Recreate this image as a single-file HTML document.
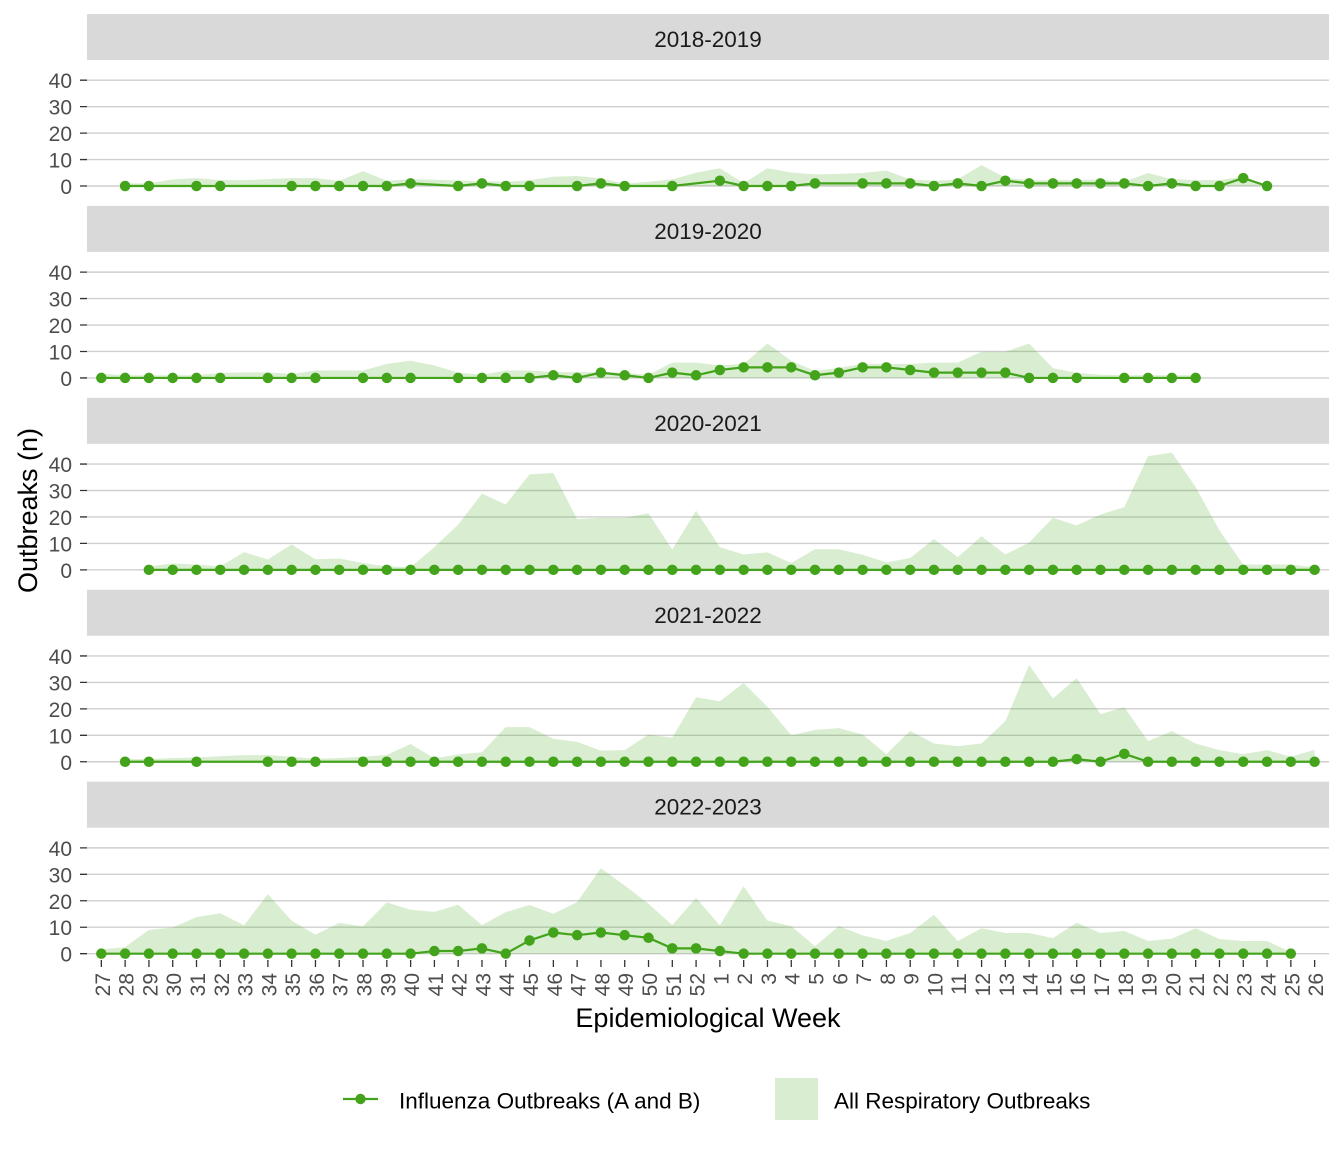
<!DOCTYPE html>
<html>
<head>
<meta charset="utf-8">
<style>
html,body{margin:0;padding:0;background:#fff;}
svg{display:block;}
text{font-family:"Liberation Sans",Arial,sans-serif;}
.grid line{stroke:#CFCFCF;stroke-width:1.4;}
.tk{stroke:#333;stroke-width:1.3;}
.yl{font-size:21px;fill:#4D4D4D;text-anchor:end;}
.st{font-size:22.5px;fill:#1A1A1A;text-anchor:middle;}
.xl{font-size:21px;fill:#4D4D4D;text-anchor:end;}
.area{fill:#41A317;fill-opacity:0.2;stroke:none;}
.ln{fill:none;stroke:#43A31B;stroke-width:2.2;vector-effect:non-scaling-stroke;stroke-linejoin:round;}
.dt{fill:none;stroke:#43A31B;stroke-width:10.5;stroke-linecap:round;vector-effect:non-scaling-stroke;}
</style>
</head>
<body>
<svg width="1344" height="1152" viewBox="0 0 1344 1152" xmlns="http://www.w3.org/2000/svg">
<rect width="1344" height="1152" fill="#fff"/>

<!-- Panel 1 -->
<g transform="translate(0,186)">
  <rect x="87" y="-172" width="1242" height="46" fill="#D9D9D9"/>
  <text class="st" x="708" y="-139">2018-2019</text>
  <g class="grid">
    <line x1="87" x2="1329" y1="0" y2="0"/><line x1="87" x2="1329" y1="-26.45" y2="-26.45"/><line x1="87" x2="1329" y1="-52.9" y2="-52.9"/><line x1="87" x2="1329" y1="-79.35" y2="-79.35"/><line x1="87" x2="1329" y1="-105.8" y2="-105.8"/>
  </g>
  <path class="tk" d="M80,0H87M80,-26.45H87M80,-52.9H87M80,-79.35H87M80,-105.8H87"/>
  <text class="yl" x="72" y="8">0</text><text class="yl" x="72" y="-18.45">10</text><text class="yl" x="72" y="-44.9">20</text><text class="yl" x="72" y="-71.35">30</text><text class="yl" x="72" y="-97.8">40</text>
  <g transform="translate(101.3,0) scale(23.79,-2.645)">
    <path class="area" d="M1,0 L1,1 2,1 3,2.5 4,3 5,2.2 6,2.2 7,2.6 8,3 9,3 10,2 11,5.6 12,2 13,2.6 14,2.4 15,2.1 16,1.8 17,1.6 18,2.2 19,3.5 20,3.8 21,2.9 22,0.9 23,1.6 24,2.5 25,5 26,6.7 27,1.1 28,6.7 29,5.1 30,4.4 31,4.6 32,4.9 33,5.8 34,2.5 35,2 36,2.5 37,7.9 38,3.1 39,2.2 40,2.2 41,2.2 42,2.5 43,1.6 44,4.9 45,2.6 46,2.2 47,2.2 48,3.6 49,0 Z"/>
    <path class="ln" d="M1,0 L2,0 4,0 5,0 8,0 9,0 10,0 11,0 12,0 13,1 15,0 16,1 17,0 18,0 20,0 21,1 22,0 24,0 26,2 27,0 28,0 29,0 30,1 32,1 33,1 34,1 35,0 36,1 37,0 38,2 39,1 40,1 41,1 42,1 43,1 44,0 45,1 46,0 47,0 48,3 49,0"/>
    <path class="dt" d="M1,0h.001M2,0h.001M4,0h.001M5,0h.001M8,0h.001M9,0h.001M10,0h.001M11,0h.001M12,0h.001M13,1h.001M15,0h.001M16,1h.001M17,0h.001M18,0h.001M20,0h.001M21,1h.001M22,0h.001M24,0h.001M26,2h.001M27,0h.001M28,0h.001M29,0h.001M30,1h.001M32,1h.001M33,1h.001M34,1h.001M35,0h.001M36,1h.001M37,0h.001M38,2h.001M39,1h.001M40,1h.001M41,1h.001M42,1h.001M43,1h.001M44,0h.001M45,1h.001M46,0h.001M47,0h.001M48,3h.001M49,0h.001"/>
  </g>
</g>

<!-- Panel 2 -->
<g transform="translate(0,377.92)">
  <rect x="87" y="-172" width="1242" height="46" fill="#D9D9D9"/>
  <text class="st" x="708" y="-139">2019-2020</text>
  <g class="grid">
    <line x1="87" x2="1329" y1="0" y2="0"/><line x1="87" x2="1329" y1="-26.45" y2="-26.45"/><line x1="87" x2="1329" y1="-52.9" y2="-52.9"/><line x1="87" x2="1329" y1="-79.35" y2="-79.35"/><line x1="87" x2="1329" y1="-105.8" y2="-105.8"/>
  </g>
  <path class="tk" d="M80,0H87M80,-26.45H87M80,-52.9H87M80,-79.35H87M80,-105.8H87"/>
  <text class="yl" x="72" y="8">0</text><text class="yl" x="72" y="-18.45">10</text><text class="yl" x="72" y="-44.9">20</text><text class="yl" x="72" y="-71.35">30</text><text class="yl" x="72" y="-97.8">40</text>
  <g transform="translate(101.3,0) scale(23.79,-2.645)">
    <path class="area" d="M0,0 L0,1.6 1,1 2,1 3,1 4,1 5,1.9 6,2.1 7,2.1 8,1.5 9,2.8 10,2.8 11,2.8 12,5.3 13,6.5 14,4.7 15,2 16,1.2 17,2.8 18,2.8 19,2.2 20,2.2 21,2.2 22,1.9 23,1.2 24,5.8 25,5.8 26,4.7 27,5.3 28,13 29,6.5 30,2.6 31,3.8 32,5.3 33,5.3 34,5.3 35,5.8 36,5.8 37,9.9 38,9.9 39,13 40,3.7 41,1.9 42,1.2 43,1 44,1 45,1 46,1 46,0 Z"/>
    <path class="ln" d="M0,0 L18,0 19,1 20,0 21,2 22,1 23,0 24,2 25,1 26,3 27,4 28,4 29,4 30,1 31,2 32,4 33,4 34,3 35,2 36,2 37,2 38,2 39,0 46,0"/>
    <path class="dt" d="M0,0h.001M1,0h.001M2,0h.001M3,0h.001M4,0h.001M5,0h.001M7,0h.001M8,0h.001M9,0h.001M11,0h.001M12,0h.001M13,0h.001M15,0h.001M16,0h.001M17,0h.001M18,0h.001M19,1h.001M20,0h.001M21,2h.001M22,1h.001M23,0h.001M24,2h.001M25,1h.001M26,3h.001M27,4h.001M28,4h.001M29,4h.001M30,1h.001M31,2h.001M32,4h.001M33,4h.001M34,3h.001M35,2h.001M36,2h.001M37,2h.001M38,2h.001M39,0h.001M40,0h.001M41,0h.001M43,0h.001M44,0h.001M45,0h.001M46,0h.001"/>
  </g>
</g>

<!-- Panel 3 -->
<g transform="translate(0,569.84)">
  <rect x="87" y="-172" width="1242" height="46" fill="#D9D9D9"/>
  <text class="st" x="708" y="-139">2020-2021</text>
  <g class="grid">
    <line x1="87" x2="1329" y1="0" y2="0"/><line x1="87" x2="1329" y1="-26.45" y2="-26.45"/><line x1="87" x2="1329" y1="-52.9" y2="-52.9"/><line x1="87" x2="1329" y1="-79.35" y2="-79.35"/><line x1="87" x2="1329" y1="-105.8" y2="-105.8"/>
  </g>
  <path class="tk" d="M80,0H87M80,-26.45H87M80,-52.9H87M80,-79.35H87M80,-105.8H87"/>
  <text class="yl" x="72" y="8">0</text><text class="yl" x="72" y="-18.45">10</text><text class="yl" x="72" y="-44.9">20</text><text class="yl" x="72" y="-71.35">30</text><text class="yl" x="72" y="-97.8">40</text>
  <g transform="translate(101.3,0) scale(23.79,-2.645)">
    <path class="area" d="M2,0 L2,1.3 3,2.4 4,2 5,1.3 6,6.7 7,3.9 8,9.6 9,4 10,4.3 11,2.6 12,1.3 13,1 14,8.6 15,17.1 16,28.8 17,24.7 18,36.1 19,36.6 20,19.2 21,19.7 22,19.7 23,21.4 24,7.7 25,22.4 26,8.6 27,5.8 28,6.6 29,2.6 30,7.8 31,7.8 32,5.7 33,2.8 34,4.5 35,11.6 36,4.8 37,12.7 38,5.8 39,10.3 40,19.7 41,16.8 42,20.9 43,23.7 44,43 45,44.3 46,31.3 47,14.9 48,2 49,2 50,2 51,1 51,0 Z"/>
    <path class="ln" d="M2,0 L51,0"/>
    <path class="dt" d="M2,0h.001M3,0h.001M4,0h.001M5,0h.001M6,0h.001M7,0h.001M8,0h.001M9,0h.001M10,0h.001M11,0h.001M12,0h.001M13,0h.001M14,0h.001M15,0h.001M16,0h.001M17,0h.001M18,0h.001M19,0h.001M20,0h.001M21,0h.001M22,0h.001M23,0h.001M24,0h.001M25,0h.001M26,0h.001M27,0h.001M28,0h.001M29,0h.001M30,0h.001M31,0h.001M32,0h.001M33,0h.001M34,0h.001M35,0h.001M36,0h.001M37,0h.001M38,0h.001M39,0h.001M40,0h.001M41,0h.001M42,0h.001M43,0h.001M44,0h.001M45,0h.001M46,0h.001M47,0h.001M48,0h.001M49,0h.001M50,0h.001M51,0h.001"/>
  </g>
</g>

<!-- Panel 4 -->
<g transform="translate(0,761.76)">
  <rect x="87" y="-172" width="1242" height="46" fill="#D9D9D9"/>
  <text class="st" x="708" y="-139">2021-2022</text>
  <g class="grid">
    <line x1="87" x2="1329" y1="0" y2="0"/><line x1="87" x2="1329" y1="-26.45" y2="-26.45"/><line x1="87" x2="1329" y1="-52.9" y2="-52.9"/><line x1="87" x2="1329" y1="-79.35" y2="-79.35"/><line x1="87" x2="1329" y1="-105.8" y2="-105.8"/>
  </g>
  <path class="tk" d="M80,0H87M80,-26.45H87M80,-52.9H87M80,-79.35H87M80,-105.8H87"/>
  <text class="yl" x="72" y="8">0</text><text class="yl" x="72" y="-18.45">10</text><text class="yl" x="72" y="-44.9">20</text><text class="yl" x="72" y="-71.35">30</text><text class="yl" x="72" y="-97.8">40</text>
  <g transform="translate(101.3,0) scale(23.79,-2.645)">
    <path class="area" d="M1,0 L1,1 2,1 3,1.4 4,1.6 5,2.1 6,2.5 7,2.5 8,1.9 9,1.1 10,1.4 11,1.9 12,2.6 13,6.7 14,1.3 15,2.8 16,3.6 17,13.1 18,13.1 19,8.7 20,7.5 21,4.2 22,4.4 23,10.3 24,9.1 25,24.4 26,22.9 27,29.8 28,20.8 29,10 30,12 31,12.7 32,10.3 33,2.9 34,11.7 35,6.9 36,5.9 37,6.9 38,15.3 39,36.6 40,23.9 41,31.6 42,18 43,20.6 44,7.8 45,11.6 46,6.9 47,4.4 48,2.9 49,4.4 50,1.9 51,4.5 51,0 Z"/>
    <path class="ln" d="M1,0 L40,0 41,1 42,0 43,3 44,0 51,0"/>
    <path class="dt" d="M1,0h.001M2,0h.001M4,0h.001M7,0h.001M8,0h.001M9,0h.001M11,0h.001M12,0h.001M13,0h.001M14,0h.001M15,0h.001M16,0h.001M17,0h.001M18,0h.001M19,0h.001M20,0h.001M21,0h.001M22,0h.001M23,0h.001M24,0h.001M25,0h.001M26,0h.001M27,0h.001M28,0h.001M29,0h.001M30,0h.001M31,0h.001M32,0h.001M33,0h.001M34,0h.001M35,0h.001M36,0h.001M37,0h.001M38,0h.001M39,0h.001M40,0h.001M41,1h.001M42,0h.001M43,3h.001M44,0h.001M45,0h.001M46,0h.001M47,0h.001M48,0h.001M49,0h.001M50,0h.001M51,0h.001"/>
  </g>
</g>

<!-- Panel 5 -->
<g transform="translate(0,953.68)">
  <rect x="87" y="-172" width="1242" height="46" fill="#D9D9D9"/>
  <text class="st" x="708" y="-139">2022-2023</text>
  <g class="grid">
    <line x1="87" x2="1329" y1="0" y2="0"/><line x1="87" x2="1329" y1="-26.45" y2="-26.45"/><line x1="87" x2="1329" y1="-52.9" y2="-52.9"/><line x1="87" x2="1329" y1="-79.35" y2="-79.35"/><line x1="87" x2="1329" y1="-105.8" y2="-105.8"/>
  </g>
  <path class="tk" d="M80,0H87M80,-26.45H87M80,-52.9H87M80,-79.35H87M80,-105.8H87"/>
  <text class="yl" x="72" y="8">0</text><text class="yl" x="72" y="-18.45">10</text><text class="yl" x="72" y="-44.9">20</text><text class="yl" x="72" y="-71.35">30</text><text class="yl" x="72" y="-97.8">40</text>
  <g transform="translate(101.3,0) scale(23.79,-2.645)">
    <path class="area" d="M0,0 L0,1.6 1,2.5 2,9 3,9.9 4,13.8 5,15.3 6,10.7 7,22.5 8,12.5 9,7.2 10,11.6 11,10.3 12,19.4 13,16.6 14,15.8 15,18.5 16,10.8 17,15.7 18,18.4 19,15.1 20,19.5 21,32.3 22,25.8 23,18.9 24,10.8 25,21.1 26,10.7 27,25.5 28,12.5 29,10.4 30,2.8 31,10.4 32,6.9 33,4.8 34,7.8 35,14.7 36,4.8 37,9.6 38,7.8 39,7.8 40,5.9 41,11.7 42,7.8 43,8.6 44,4.8 45,5.7 46,9.6 47,5.5 48,4.8 49,4.8 50,0.6 50,0 Z"/>
    <path class="ln" d="M0,0 L13,0 14,1 15,1 16,2 17,0 18,5 19,8 20,7 21,8 22,7 23,6 24,2 25,2 26,1 27,0 50,0"/>
    <path class="dt" d="M0,0h.001M1,0h.001M2,0h.001M3,0h.001M4,0h.001M5,0h.001M6,0h.001M7,0h.001M8,0h.001M9,0h.001M10,0h.001M11,0h.001M12,0h.001M13,0h.001M14,1h.001M15,1h.001M16,2h.001M17,0h.001M18,5h.001M19,8h.001M20,7h.001M21,8h.001M22,7h.001M23,6h.001M24,2h.001M25,2h.001M26,1h.001M27,0h.001M28,0h.001M29,0h.001M30,0h.001M31,0h.001M32,0h.001M33,0h.001M34,0h.001M35,0h.001M36,0h.001M37,0h.001M38,0h.001M39,0h.001M40,0h.001M41,0h.001M42,0h.001M43,0h.001M44,0h.001M45,0h.001M46,0h.001M47,0h.001M48,0h.001M49,0h.001M50,0h.001"/>
  </g>
  <!-- x ticks -->
  <line x1="100.7" x2="1316" y1="9.8" y2="9.8" stroke="#333" stroke-width="7" stroke-dasharray="1.3 22.49"/>
</g>

<!-- x tick labels -->
<g class="xl">
<text class="xl" transform="translate(109.8,973) rotate(-90)">27</text>
<text class="xl" transform="translate(133.6,973) rotate(-90)">28</text>
<text class="xl" transform="translate(157.4,973) rotate(-90)">29</text>
<text class="xl" transform="translate(181.2,973) rotate(-90)">30</text>
<text class="xl" transform="translate(205.0,973) rotate(-90)">31</text>
<text class="xl" transform="translate(228.8,973) rotate(-90)">32</text>
<text class="xl" transform="translate(252.5,973) rotate(-90)">33</text>
<text class="xl" transform="translate(276.3,973) rotate(-90)">34</text>
<text class="xl" transform="translate(300.1,973) rotate(-90)">35</text>
<text class="xl" transform="translate(323.9,973) rotate(-90)">36</text>
<text class="xl" transform="translate(347.7,973) rotate(-90)">37</text>
<text class="xl" transform="translate(371.5,973) rotate(-90)">38</text>
<text class="xl" transform="translate(395.3,973) rotate(-90)">39</text>
<text class="xl" transform="translate(419.1,973) rotate(-90)">40</text>
<text class="xl" transform="translate(442.9,973) rotate(-90)">41</text>
<text class="xl" transform="translate(466.7,973) rotate(-90)">42</text>
<text class="xl" transform="translate(490.4,973) rotate(-90)">43</text>
<text class="xl" transform="translate(514.2,973) rotate(-90)">44</text>
<text class="xl" transform="translate(538.0,973) rotate(-90)">45</text>
<text class="xl" transform="translate(561.8,973) rotate(-90)">46</text>
<text class="xl" transform="translate(585.6,973) rotate(-90)">47</text>
<text class="xl" transform="translate(609.4,973) rotate(-90)">48</text>
<text class="xl" transform="translate(633.2,973) rotate(-90)">49</text>
<text class="xl" transform="translate(657.0,973) rotate(-90)">50</text>
<text class="xl" transform="translate(680.8,973) rotate(-90)">51</text>
<text class="xl" transform="translate(704.6,973) rotate(-90)">52</text>
<text class="xl" transform="translate(728.3,973) rotate(-90)">1</text>
<text class="xl" transform="translate(752.1,973) rotate(-90)">2</text>
<text class="xl" transform="translate(775.9,973) rotate(-90)">3</text>
<text class="xl" transform="translate(799.7,973) rotate(-90)">4</text>
<text class="xl" transform="translate(823.5,973) rotate(-90)">5</text>
<text class="xl" transform="translate(847.3,973) rotate(-90)">6</text>
<text class="xl" transform="translate(871.1,973) rotate(-90)">7</text>
<text class="xl" transform="translate(894.9,973) rotate(-90)">8</text>
<text class="xl" transform="translate(918.7,973) rotate(-90)">9</text>
<text class="xl" transform="translate(942.5,973) rotate(-90)">10</text>
<text class="xl" transform="translate(966.2,973) rotate(-90)">11</text>
<text class="xl" transform="translate(990.0,973) rotate(-90)">12</text>
<text class="xl" transform="translate(1013.8,973) rotate(-90)">13</text>
<text class="xl" transform="translate(1037.6,973) rotate(-90)">14</text>
<text class="xl" transform="translate(1061.4,973) rotate(-90)">15</text>
<text class="xl" transform="translate(1085.2,973) rotate(-90)">16</text>
<text class="xl" transform="translate(1109.0,973) rotate(-90)">17</text>
<text class="xl" transform="translate(1132.8,973) rotate(-90)">18</text>
<text class="xl" transform="translate(1156.6,973) rotate(-90)">19</text>
<text class="xl" transform="translate(1180.4,973) rotate(-90)">20</text>
<text class="xl" transform="translate(1204.1,973) rotate(-90)">21</text>
<text class="xl" transform="translate(1227.9,973) rotate(-90)">22</text>
<text class="xl" transform="translate(1251.7,973) rotate(-90)">23</text>
<text class="xl" transform="translate(1275.5,973) rotate(-90)">24</text>
<text class="xl" transform="translate(1299.3,973) rotate(-90)">25</text>
<text class="xl" transform="translate(1323.1,973) rotate(-90)">26</text>
</g>

<!-- axis titles -->
<text x="708" y="1027" text-anchor="middle" font-size="27" fill="#000">Epidemiological Week</text>
<text transform="translate(37,510.5) rotate(-90)" text-anchor="middle" font-size="27" fill="#000">Outbreaks (n)</text>

<!-- legend -->
<line x1="343" x2="378" y1="1099" y2="1099" stroke="#43A31B" stroke-width="2.2"/>
<circle cx="360.5" cy="1099" r="5.2" fill="#43A31B"/>
<text x="399" y="1108.5" font-size="22.5" fill="#000">Influenza Outbreaks (A and B)</text>
<rect x="775" y="1078" width="43" height="42" fill="#41A317" fill-opacity="0.2"/>
<text x="834" y="1108.5" font-size="22.5" fill="#000">All Respiratory Outbreaks</text>
</svg>
</body>
</html>
